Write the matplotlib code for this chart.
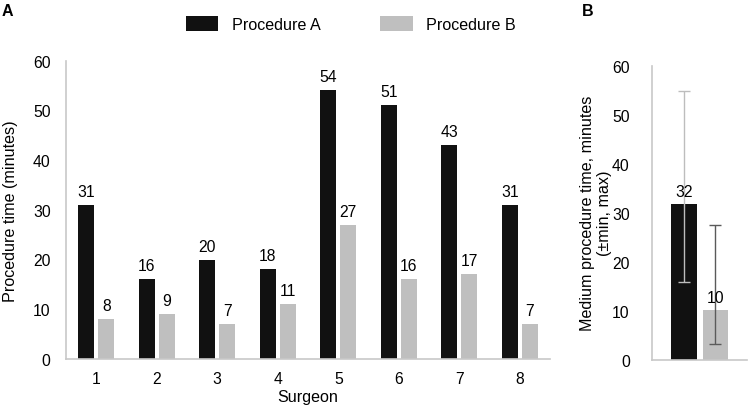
import matplotlib
matplotlib.use("Agg")
import matplotlib.pyplot as plt
import numpy as np

plt.rcParams['font.family'] = ['Liberation Sans', 'DejaVu Sans']

surgeons = ["1", "2", "3", "4", "5", "6", "7", "8"]
proc_a = [31, 16, 20, 18, 54, 51, 43, 31]
proc_b = [8, 9, 7, 11, 27, 16, 17, 7]

median_labels = ["32", "10"]
median_vals = [31.8, 10.1]
median_min = [15.9, 3.2]
median_max = [54.8, 27.5]

BLACK = "#111111"
GRAY = "#bfbfbf"
SPINE = "#c8c8c8"
FS = 11.3
FSL = 11.6

W, H = 749, 406
fig = plt.figure(figsize=(W / 100, H / 100), dpi=100)

def ax_rect(x0, x1, ytop, ybot):
    return [x0 / W, 1 - ybot / H, (x1 - x0) / W, (ybot - ytop) / H]

# Panel A
axA = fig.add_axes(ax_rect(66, 550, 61.5, 360))
x = np.arange(1, len(surgeons) + 1)
off, bw = 0.165, 0.265
ba = axA.bar(x - off, proc_a, bw, color=BLACK, label="Procedure A")
bb = axA.bar(x + off, proc_b, bw, color=GRAY, label="Procedure B")
for xi, v in zip(x, proc_a):
    axA.text(xi - off, v + 1.2, str(v), ha="center", va="bottom", fontsize=FS)
for xi, v in zip(x, proc_b):
    axA.text(xi + off, v + 1.2, str(v), ha="center", va="bottom", fontsize=FS)
axA.set_xlim(0.5, 8.5)
axA.set_ylim(0, 60)
axA.set_yticks(range(0, 61, 10))
axA.set_xticks(x)
axA.set_xticklabels(surgeons)
axA.set_xlabel("Surgeon", fontsize=FSL, labelpad=2)
axA.set_ylabel("Procedure time (minutes)", fontsize=FSL, labelpad=11)
for s in ["top", "right"]:
    axA.spines[s].set_visible(False)
for s in ["left", "bottom"]:
    axA.spines[s].set_color(SPINE)
    axA.spines[s].set_linewidth(1.2)
axA.tick_params(length=0, labelsize=FS, pad=11)
axA.tick_params(axis="x", pad=9)

fig.legend(handles=[ba, bb], labels=["Procedure A", "Procedure B"],
           loc="center left", bbox_to_anchor=(186 / W, 1 - 25 / H),
           ncol=2, frameon=False, fontsize=FSL, handlelength=2.0,
           handleheight=1.0, columnspacing=3.7, handletextpad=0.85,
           borderpad=0, borderaxespad=0)

# Panel B
axB = fig.add_axes(ax_rect(652, 747, 66.7, 360.7))
xb = [0.337, 0.668]
axB.bar(xb[0], median_vals[0], 0.274, color=BLACK)
axB.bar(xb[1], median_vals[1], 0.265, color=GRAY)
err_colors = ["#bdbdbd", "#5a5a5a"]
for i in range(2):
    lo = median_vals[i] - median_min[i]
    hi = median_max[i] - median_vals[i]
    axB.errorbar(xb[i], median_vals[i], yerr=[[lo], [hi]], fmt="none",
                 ecolor=err_colors[i], elinewidth=1.0, capsize=4, capthick=1.0)
    axB.text(xb[i], median_vals[i] + 1.0, median_labels[i], ha="center",
             va="bottom", fontsize=FS)
axB.set_xlim(0, 1)
axB.set_ylim(0, 60)
axB.set_yticks(range(0, 61, 10))
axB.set_xticks([])
axB.set_ylabel("Medium procedure time, minutes\n(±min, max)", fontsize=FSL,
               labelpad=0, linespacing=1.15)
for s in ["top", "right"]:
    axB.spines[s].set_visible(False)
for s in ["left", "bottom"]:
    axB.spines[s].set_color(SPINE)
    axB.spines[s].set_linewidth(1.2)
axB.tick_params(length=0, labelsize=FS, pad=16)

fig.text(2 / W, 1 - 11 / H, "A", fontsize=11.5, fontweight="bold", va="center")
fig.text(582 / W, 1 - 11 / H, "B", fontsize=11.5, fontweight="bold", va="center")

fig.savefig("out.png", dpi=100)
